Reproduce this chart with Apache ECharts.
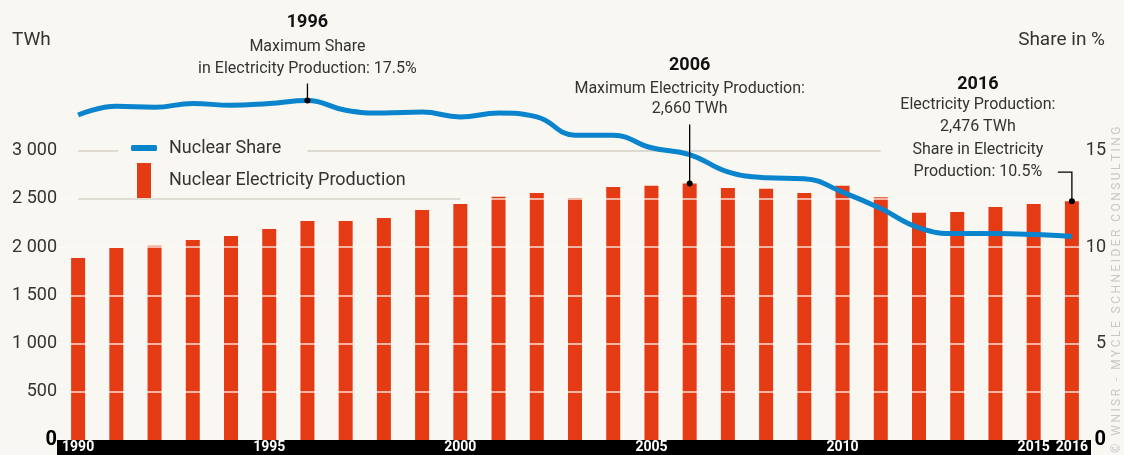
<!DOCTYPE html>
<html>
<head>
<meta charset="utf-8">
<script src="https://cdn.jsdelivr.net/npm/echarts@6/dist/echarts.min.js"></script>
<style>
  html, body { margin: 0; padding: 0; background: #f9f7f1; }
  #main { width: 1124px; height: 455px; }
</style>
</head>
<body>
<div id="main"></div>
<script>
const years = ['1990', '1991', '1992', '1993', '1994', '1995', '1996', '1997', '1998', '1999',
  '2000', '2001', '2002', '2003', '2004', '2005', '2006', '2007', '2008', '2009',
  '2010', '2011', '2012', '2013', '2014', '2015', '2016'];
// TWh
const production = [1888, 1992, 2015, 2075, 2116, 2189, 2272, 2272, 2303, 2386,
  2448, 2521, 2562, 2510, 2624, 2635, 2660, 2614, 2604, 2562,
  2635, 2518, 2355, 2365, 2417, 2448, 2476];
// % of electricity production
const share = [16.85, 17.3, 17.25, 17.45, 17.35, 17.45, 17.6, 17.1, 16.95, 17.0,
  16.75, 16.95, 16.75, 15.8, 15.8, 15.15, 14.8, 13.9, 13.6, 13.55,
  12.85, 12.0, 11.0, 10.7, 10.7, 10.65, 10.55];
const twhTicks = [500, 1000, 1500, 2000, 2500];
const xLabelYears = ['1990', '1995', '2000', '2005', '2010', '2015', '2016'];

const FONT = 'Roboto';
const BAR = '#e53b14';
const LINE = '#0a84cc';
const BG = '#f9f7f1';

function spaced(v) {
  return String(v).replace(/\B(?=(\d{3})+(?!\d))/g, ' ');
}

const chart = echarts.init(document.getElementById('main'));

var option = {
  backgroundColor: BG,
  animation: false,
  textStyle: { fontFamily: FONT },
  grid: { left: 59, right: 33, top: 6, bottom: 15 },
  legend: [{
    left: 118, top: 135, padding: [4, 26, 4, 13],
    backgroundColor: BG, z: 4,
    selectedMode: false,
    itemWidth: 26, itemHeight: 6,
    data: [{ name: 'Nuclear Share', icon: 'roundRect' }],
    textStyle: { fontFamily: FONT, fontSize: 18, color: '#333', padding: [0, 0, 0, 7] }
  }, {
    left: 137, top: 163, padding: 0, z: 5,
    selectedMode: false,
    itemWidth: 14, itemHeight: 35,
    data: [{ name: 'Nuclear Electricity Production', icon: 'rect' }],
    textStyle: { fontFamily: FONT, fontSize: 18, color: '#333', padding: [0, 0, 0, 13] }
  }],
  xAxis: {
    type: 'category',
    data: years,
    z: 5,
    axisLine: { show: false },
    axisTick: { show: false },
    axisLabel: {
      interval: function (i, v) { return xLabelYears.indexOf(v) >= 0; },
      color: '#fff', fontWeight: 'bold', fontSize: 14, fontFamily: FONT,
      lineHeight: 15, verticalAlign: 'top', margin: 0
    }
  },
  yAxis: [{
    type: 'value', min: 0, max: 4500, interval: 500,
    axisLine: { show: false }, axisTick: { show: false },
    splitLine: { show: false },
    axisLabel: {
      margin: 2, fontSize: 18, color: '#333', fontFamily: FONT,
      formatter: function (v) { return v === 0 ? '{z|0}' : (v > 3000 ? '' : spaced(v)); },
      rich: { z: { fontSize: 20, fontWeight: 'bold', color: '#000', fontFamily: FONT } }
    }
  }, {
    type: 'value', min: 0, max: 22.5, interval: 5,
    axisLine: { show: false }, axisTick: { show: false },
    splitLine: { show: false },
    axisLabel: {
      margin: 15, align: 'right', fontSize: 18, color: '#333', fontFamily: FONT,
      formatter: function (v) { return v === 0 ? '{z|0}' : (v > 15 ? '' : String(v)); },
      rich: { z: { fontSize: 20, fontWeight: 'bold', color: '#000', fontFamily: FONT } }
    }
  }],
  series: [{
    name: 'Nuclear Electricity Production',
    type: 'bar',
    data: production,
    barWidth: 14,
    itemStyle: { color: BAR },
    z: 2
  }, {
    // light grid lines, only seen on top of the bars
    type: 'line',
    data: [],
    z: 3,
    markLine: {
      z: 3, silent: true, symbol: 'none', label: { show: false },
      lineStyle: { color: 'rgba(252,250,246,0.85)', width: 1.5, type: 'solid' },
      data: twhTicks.map(function (t) { return { yAxis: t }; })
    }
  }, {
    // grey grid lines in the open area
    type: 'line',
    data: [],
    z: 3,
    markLine: {
      z: 3, silent: true, symbol: 'none', label: { show: false },
      lineStyle: { color: '#d4d1c7', width: 1.5, type: 'solid' },
      data: [
        [{ coord: ['1990', 3000] }, { coord: ['2011', 3000] }],
        [{ coord: ['1990', 2500] }, { coord: ['2000', 2500] }]
      ]
    }
  }, {
    name: 'Nuclear Share',
    type: 'line',
    yAxisIndex: 1,
    data: share,
    smooth: 0.45,
    symbol: 'none',
    lineStyle: { color: LINE, width: 5 },
    itemStyle: { color: LINE },
    z: 6
  }]
};

chart.setOption(option);

// annotations placed from the axes
const p96 = chart.convertToPixel({ xAxisIndex: 0, yAxisIndex: 1 }, ['1996', share[6]]);
const p06 = chart.convertToPixel({ xAxisIndex: 0, yAxisIndex: 0 }, ['2006', production[16]]);
const p16 = chart.convertToPixel({ xAxisIndex: 0, yAxisIndex: 0 }, ['2016', production[26]]);
const base = chart.convertToPixel({ yAxisIndex: 0 }, 0);

function txt(x, y, s, bold) {
  return {
    type: 'text', x: x, y: y, z: 20,
    style: {
      text: s, fontFamily: FONT, fontSize: bold ? 18 : 16,
      fontWeight: bold ? 'bold' : 'normal',
      fill: bold ? '#111' : '#333', align: 'center', verticalAlign: 'middle'
    }
  };
}
function dot(p) {
  return { type: 'circle', z: 20, shape: { cx: p[0], cy: p[1], r: 3 }, style: { fill: '#000' } };
}
function leader(pts) {
  return { type: 'polyline', z: 20, shape: { points: pts }, style: { stroke: '#000', lineWidth: 1.3, fill: null } };
}

const mark = '© WNISR - MYCLE SCHNEIDER CONSULTING'.split('').join('\u2009');
const tx16 = p16[0] - 94;
chart.setOption({
  graphic: [
    // black time band under the plot
    { type: 'rect', z: 1, shape: { x: 57, y: base, width: 1034, height: 455 - base }, style: { fill: '#000' } },

    { type: 'text', left: 12, top: 31, z: 20, style: { text: 'TWh', fontFamily: FONT, fontSize: 19, fill: '#333' } },
    { type: 'text', right: 19, top: 31, z: 20, style: { text: 'Share in %', fontFamily: FONT, fontSize: 19, fill: '#333' } },

    txt(p96[0], p96[1] - 78, '1996', true),
    txt(p96[0], p96[1] - 54, 'Maximum Share'),
    txt(p96[0], p96[1] - 32, 'in Electricity Production: 17.5%'),
    leader([[p96[0], p96[1] - 17], [p96[0], p96[1]]]),
    dot(p96),

    txt(p06[0], p06[1] - 118, '2006', true),
    txt(p06[0], p06[1] - 94, 'Maximum Electricity Production:'),
    txt(p06[0], p06[1] - 74, '2,660 TWh'),
    leader([[p06[0], p06[1] - 59], [p06[0], p06[1]]]),
    dot(p06),

    txt(tx16, p16[1] - 117, '2016', true),
    txt(tx16, p16[1] - 96, 'Electricity Production:'),
    txt(tx16, p16[1] - 74, '2,476 TWh'),
    txt(tx16, p16[1] - 51, 'Share in Electricity'),
    txt(tx16, p16[1] - 29, 'Production: 10.5%'),
    leader([[p16[0] - 14, p16[1] - 29], [p16[0], p16[1] - 29], [p16[0], p16[1]]]),
    dot(p16),

    {
      type: 'text', x: 1117, y: 453, rotation: Math.PI / 2, z: 20,
      style: {
        text: mark, fontFamily: FONT, fontSize: 12,
        fill: '#c8c8c8', align: 'left', verticalAlign: 'middle'
      }
    }
  ]
});
</script>
</body>
</html>
